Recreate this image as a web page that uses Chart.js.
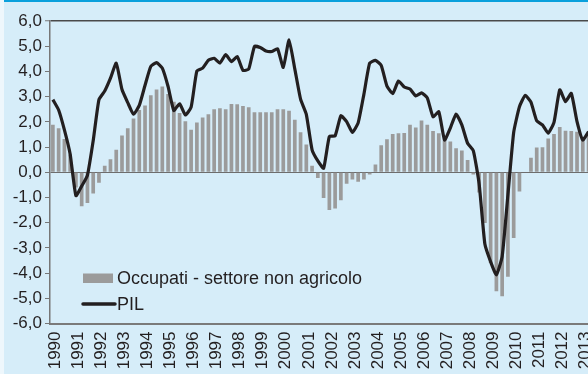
<!DOCTYPE html>
<html>
<head>
<meta charset="utf-8">
<script src="https://cdn.jsdelivr.net/npm/chart.js@4.4.1/dist/chart.umd.min.js"></script>
<style>
  html, body { margin: 0; padding: 0; }
  body { width: 588px; height: 374px; overflow: hidden; background: #d6edf9; position: relative; }
  #edge { position: absolute; left: 0; top: 0; width: 4px; height: 374px; background: #eef7fc; }
  #stripe { position: absolute; left: 4px; top: 0; width: 584px; height: 2px; background: #0aa0dc; }
  #wrap { position: absolute; left: 0; top: 0; width: 617px; height: 374px; }
</style>
</head>
<body>
<div id="edge"></div>
<div id="stripe"></div>
<div id="wrap"><canvas id="chart" width="617" height="374"></canvas></div>
<script>
// tick labels on the x axis (one per year, placed on the first quarter)
const years = ['1990','1991','1992','1993','1994','1995','1996','1997','1998','1999','2000','2001',
               '2002','2003','2004','2005','2006','2007','2008','2009','2010','2011','2012','2013'];
const quarters = ['T1', 'T2', 'T3', 'T4'];

// employment, non-agricultural sector (% change y/y)
const occupati = [
  1.88, 1.75, 1.32, 0.70, -0.60, -1.35, -1.22, -0.84, -0.42, 0.26, 0.52, 0.89,
  1.46, 1.75, 2.13, 2.47, 2.65, 3.05, 3.28, 3.40, 3.10, 2.80, 2.35, 2.02,
  1.69, 1.97, 2.17, 2.30, 2.50, 2.54, 2.50, 2.71, 2.70, 2.63, 2.58, 2.38,
  2.38, 2.38, 2.38, 2.50, 2.50, 2.44, 2.08, 1.59, 1.10, 0.26, -0.23, -1.02,
  -1.50, -1.44, -1.11, -0.46, -0.29, -0.38, -0.29, -0.09, 0.31, 1.07, 1.31, 1.52,
  1.55, 1.56, 1.88, 1.78, 2.05, 1.88, 1.64, 1.55, 1.35, 1.22, 0.95, 0.86,
  0.49, -0.09, -0.80, -2.01, -3.60, -4.72, -4.92, -4.15, -2.61, -0.76, 0.00, 0.58,
  0.98, 0.99, 1.34, 1.52, 1.80, 1.65, 1.64, 1.61, 1.32, 1.55
];

// GDP (% change y/y)
const pil = [
  2.88, 2.47, 1.68, 0.72, -0.93, -0.55, -0.12, 1.25, 2.88, 3.22, 3.73, 4.33,
  3.28, 2.76, 2.30, 2.65, 3.45, 4.20, 4.35, 4.13, 3.40, 2.45, 2.72, 2.27,
  2.58, 4.02, 4.13, 4.44, 4.52, 4.33, 4.67, 4.39, 4.59, 4.04, 4.09, 4.99,
  4.95, 4.81, 4.79, 4.90, 4.16, 5.25, 4.10, 2.90, 2.30, 0.89, 0.45, 0.16,
  1.42, 1.44, 2.24, 2.01, 1.58, 1.96, 3.10, 4.33, 4.44, 4.24, 3.42, 3.12,
  3.62, 3.38, 3.30, 3.03, 3.15, 2.95, 2.20, 2.40, 1.28, 1.75, 2.31, 1.88,
  1.15, 0.85, -0.45, -2.85, -3.55, -4.07, -3.34, -0.90, 1.58, 2.60, 3.05, 2.78,
  2.04, 1.88, 1.55, 1.98, 3.27, 2.80, 3.13, 2.01, 1.28, 1.61
];

const categories = years.flatMap(y => quarters.map(q => y + ' ' + q)).slice(0, pil.length);

const FONT = '"Liberation Sans", Arial, Helvetica, sans-serif';
const INK = '#231f20';

// legend drawn inside the plot, bottom left
const innerLegend = {
  id: 'innerLegend',
  afterDatasetsDraw(chart) {
    const ctx = chart.ctx;
    const area = chart.chartArea;
    const [bars, line] = chart.data.datasets;
    const x = area.left + 33;
    ctx.save();
    ctx.font = '18px ' + FONT;
    ctx.textBaseline = 'middle';

    ctx.fillStyle = bars.backgroundColor;
    ctx.fillRect(x, area.bottom - 50, 30, 9.5);
    ctx.fillStyle = INK;
    ctx.fillText(bars.label, x + 34, area.bottom - 44);

    ctx.strokeStyle = line.borderColor;
    ctx.lineWidth = 3.5;
    ctx.lineCap = 'round';
    ctx.beginPath();
    ctx.moveTo(x, area.bottom - 19.5);
    ctx.lineTo(x + 32, area.bottom - 19.5);
    ctx.stroke();
    ctx.fillText(line.label, x + 34, area.bottom - 18);
    ctx.restore();
  }
};

new Chart(document.getElementById('chart'), {
  type: 'bar',
  data: {
    labels: categories,
    datasets: [
      {
        label: 'Occupati - settore non agricolo',
        data: occupati,
        backgroundColor: '#9b9b9b',
        barPercentage: 0.64,
        categoryPercentage: 1.0,
        order: 2
      },
      {
        type: 'line',
        label: 'PIL',
        data: pil,
        borderColor: INK,
        borderWidth: 3.2,
        pointRadius: 0,
        tension: 0.15,
        borderJoinStyle: 'round',
        order: 1
      }
    ]
  },
  options: {
    responsive: false,
    animation: false,
    layout: { padding: { top: 21, right: 9, left: 0, bottom: 0 } },
    plugins: { legend: { display: false }, tooltip: { enabled: false } },
    scales: {
      x: {
        afterFit: s => { s.height = 50.5; },
        grid: { display: false, drawTicks: false },
        border: { display: true, color: '#7a7a7a', width: 2 },
        ticks: {
          autoSkip: false,
          minRotation: 90,
          maxRotation: 90,
          padding: 8,
          labelOffset: 2.5,
          color: INK,
          font: { family: FONT, size: 17 },
          callback: (val, i) => (i % 4 === 0 ? years[i / 4] : '')
        }
      },
      y: {
        min: -6,
        max: 6,
        afterFit: s => { s.width = 50; },
        border: { display: true, color: '#777', width: 1.5 },
        grid: {
          drawTicks: true,
          tickLength: 5,
          tickColor: '#777',
          tickWidth: 1,
          color: c => (c.tick.value === 6 ? '#4a4a4a' : c.tick.value === 0 ? '#6d6d6d' : 'rgba(0,0,0,0)'),
          lineWidth: c => (c.tick.value === 6 ? 1.5 : 1)
        },
        ticks: {
          stepSize: 1,
          padding: 3,
          color: INK,
          font: { family: FONT, size: 17 },
          callback: v => v.toFixed(1).replace('.', ',')
        }
      }
    }
  },
  plugins: [innerLegend]
});
</script>
</body>
</html>
